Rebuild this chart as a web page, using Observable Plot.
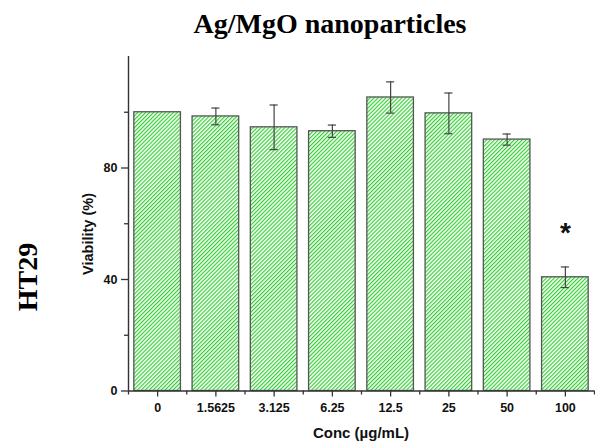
<!DOCTYPE html>
<html><head><meta charset="utf-8">
<script src="https://cdn.jsdelivr.net/npm/d3@7"></script>
<script src="https://cdn.jsdelivr.net/npm/@observablehq/plot@0.6"></script>
<style>body{margin:0;background:#fff} svg{display:block}</style>
</head><body><div id="chart"></div>
<script>
const categories = ["0", "1.5625", "3.125", "6.25", "12.5", "25", "50", "100"];
const viability = [100, 98.5, 94.6, 93.2, 105.3, 99.6, 90.2, 40.8];
const sd = [0, 3.0, 8.0, 2.2, 5.6, 7.3, 2.0, 3.7];
const significant = ["100"];
const yTicks = [0, 40, 80];
const yMinorTicks = [20, 60, 100];
const titleText = "Ag/MgO nanoparticles";
const rowLabel = "HT29";
const yLabel = "Viability (%)";
const xLabel = "Conc (\u00b5g/mL)";

const data = categories.map((c, i) => ({i, c, v: viability[i], sd: sd[i]}));
const xMinor = d3.range(categories.length + 1).map(k => k - 0.5);
const stars = data.filter(d => significant.includes(d.c));

const W = 595, H = 446;
const sans = "Liberation Sans, Arial, sans-serif";
const serif = "Liberation Serif, Times New Roman, serif";

const chart = Plot.plot({
  width: W, height: H,
  marginLeft: 128, marginRight: 1, marginTop: 56, marginBottom: 55.5,
  style: {fontFamily: sans, background: "#fff", color: "#111"},
  x: {type: "linear", domain: [-0.5, categories.length - 0.5], axis: null},
  y: {domain: [0, 120], axis: null},
  marks: [
    Plot.rectY(data, {x1: d => d.i - 0.4, x2: d => d.i + 0.4, y1: 0, y2: "v", fill: "url(#hatch)", stroke: "#555", strokeWidth: 1.3}),
    Plot.ruleX(data.filter(d => d.sd > 0), {x: "i", y1: d => d.v - d.sd, y2: d => d.v + d.sd, stroke: "#444", strokeWidth: 1.2}),
    Plot.ruleY(data.filter(d => d.sd > 0), {y: d => d.v + d.sd, x1: d => d.i - 0.07, x2: d => d.i + 0.07, stroke: "#444", strokeWidth: 1.2}),
    Plot.ruleY(data.filter(d => d.sd > 0), {y: d => d.v - d.sd, x1: d => d.i - 0.07, x2: d => d.i + 0.07, stroke: "#444", strokeWidth: 1.2}),
    Plot.text(stars, {x: "i", y: d => d.v + d.sd, text: () => "*", dy: -34, lineAnchor: "middle", fontSize: 28, fontWeight: "bold", fill: "#111"}),
    Plot.ruleY([0], {stroke: "#333", strokeWidth: 1.4}),
    Plot.ruleX([-0.5], {y1: 0, y2: 120, stroke: "#333", strokeWidth: 1.4}),
    Plot.axisY({ticks: yTicks, tickSize: 7, tickPadding: 4, fontSize: 12.5, fontWeight: "bold", label: null, stroke: "#333", strokeWidth: 1.3}),
    Plot.axisY({ticks: yMinorTicks, tickSize: 4, tickFormat: () => "", label: null, stroke: "#333", strokeWidth: 1.3}),
    Plot.axisX({ticks: d3.range(categories.length), tickFormat: i => categories[i], tickSize: 6, tickPadding: 6, fontSize: 12.5, fontWeight: "bold", label: null, stroke: "#333", strokeWidth: 1.3}),
    Plot.axisX(xMinor, {tickSize: 4, tickFormat: () => "", label: null, stroke: "#333", strokeWidth: 1.3})
  ]
});

const svg = d3.select(chart);
const defs = svg.insert("defs", ":first-child");
const P = 2.8;
const pat = defs.append("pattern").attr("id", "hatch").attr("width", P).attr("height", P)
  .attr("patternUnits", "userSpaceOnUse").attr("patternTransform", "rotate(45)");
pat.append("rect").attr("width", P).attr("height", P).attr("fill", "#f3fdf3");
pat.append("line").attr("x1", 0.55).attr("y1", 0).attr("x2", 0.55).attr("y2", P)
  .attr("stroke", "#33cc33").attr("stroke-width", 1.1);

svg.append("text").attr("x", 330).attr("y", 33).attr("text-anchor", "middle")
  .style("font-family", serif).style("font-weight", "bold").style("font-size", "28px").attr("fill", "#000").text(titleText);
svg.append("text").attr("transform", "translate(37,277) rotate(-90)").attr("text-anchor", "middle")
  .style("font-family", serif).style("font-weight", "bold").style("font-size", "28px").attr("fill", "#000").text(rowLabel);
svg.append("text").attr("transform", "translate(93,234) rotate(-90)").attr("text-anchor", "middle")
  .style("font-family", sans).style("font-weight", "bold").style("font-size", "14.5px").attr("fill", "#111").text(yLabel);
svg.append("text").attr("x", 361).attr("y", 438).attr("text-anchor", "middle")
  .style("font-family", sans).style("font-weight", "bold").style("font-size", "15px").attr("fill", "#111").text(xLabel);

document.getElementById("chart").append(chart);
</script>
</body></html>
